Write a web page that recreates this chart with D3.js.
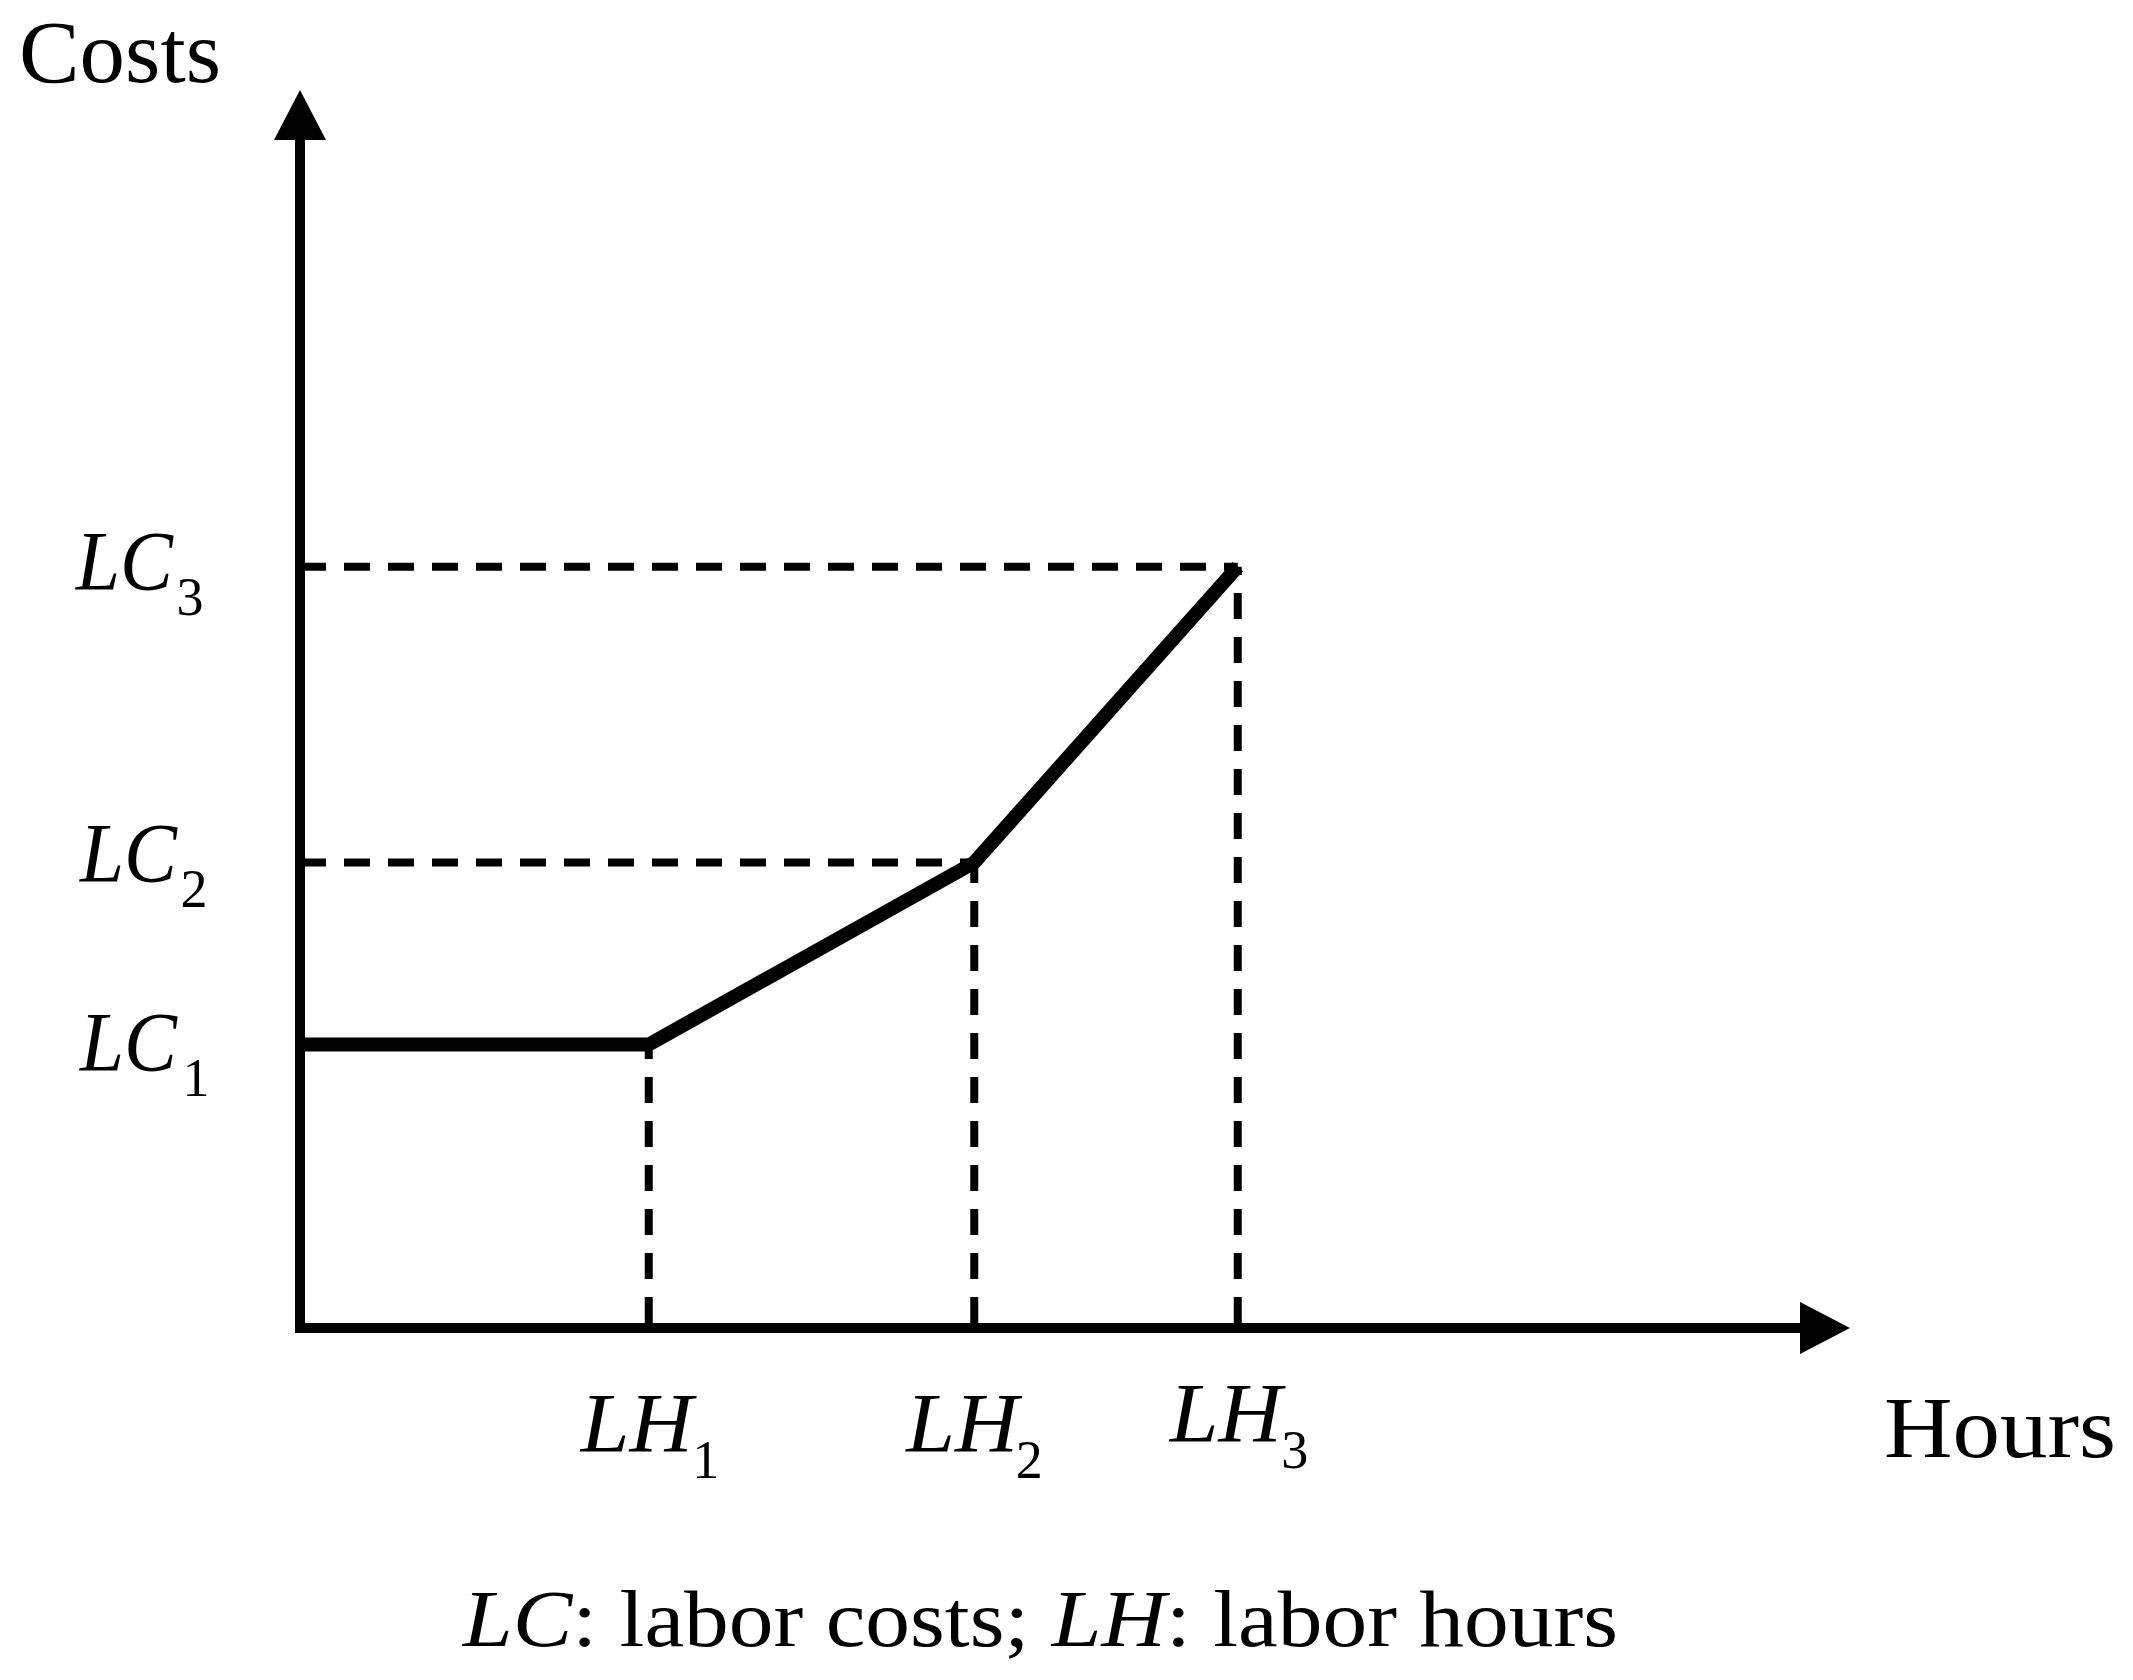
<!DOCTYPE html>
<html>
<head>
<meta charset="utf-8">
<script src="https://cdn.jsdelivr.net/npm/d3@7"></script>
<style>
  body { margin: 0; background: #fff; }
  svg { display: block; }
</style>
</head>
<body>
<svg id="chart"></svg>
<script>
// values, in arbitrary units (0-100 on each axis)
const hours = [0, 22.5, 43.5, 60.5];
const costs = [22.9, 22.9, 37.6, 61.5];

const hourBreaks = [22.5, 43.5, 60.5];
const costLevels = [22.9, 37.6, 61.5];

const hourLabels = ['LH', 'LH', 'LH'];
const hourSubs = ['1', '2', '3'];
const costLabels = ['LC', 'LC', 'LC'];
const costSubs = ['1', '2', '3'];

const axisTitles = { x: 'Hours', y: 'Costs' };
const note = [
  { text: 'LC', italic: true },
  { text: ': labor costs; ', italic: false },
  { text: 'LH', italic: true },
  { text: ': labor hours', italic: false },
];

const W = 2133;
const H = 1680;
const font = '"Liberation Serif", "Times New Roman", serif';

const x = d3.scaleLinear().domain([0, 100]).range([300, 1850]);
const y = d3.scaleLinear().domain([0, 100]).range([1328, 90]);

const svg = d3.select('#chart').attr('width', W).attr('height', H);
svg.append('rect').attr('width', W).attr('height', H).attr('fill', '#fff');

const dash = { width: 8, array: '26 18' };
const arrow = { len: 50, half: 26 };

const drawGuides = () => {
  const g = svg.append('g')
    .attr('stroke', '#000')
    .attr('stroke-width', dash.width)
    .attr('stroke-dasharray', dash.array)
    .attr('fill', 'none');

  // horizontal guides, skipping the first level (it is the solid segment)
  const levels = d3.zip(costLevels, hourBreaks).slice(1);
  g.selectAll('line.h')
    .data(levels)
    .enter()
    .append('line')
    .attr('class', 'h')
    .attr('x1', x(0))
    .attr('x2', d => x(d[1]))
    .attr('y1', d => y(d[0]))
    .attr('y2', d => y(d[0]));

  // vertical guides from the x axis up to each break
  g.selectAll('line.v')
    .data(d3.zip(hourBreaks, costLevels))
    .enter()
    .append('line')
    .attr('class', 'v')
    .attr('x1', d => x(d[0]))
    .attr('x2', d => x(d[0]))
    .attr('y1', y(0) - 5)
    .attr('y2', d => y(d[1]));
};

const drawCurve = () => {
  const line = d3.line()
    .x(d => x(d[0]))
    .y(d => y(d[1]));

  svg.append('path')
    .datum(d3.zip(hours, costs))
    .attr('d', line)
    .attr('fill', 'none')
    .attr('stroke', '#000')
    .attr('stroke-width', 14)
    .attr('stroke-linejoin', 'miter')
    .attr('stroke-linecap', 'butt');
};

const drawAxes = () => {
  const g = svg.append('g');
  const x0 = x(0), y0 = y(0);
  const xEnd = x.range()[1], yEnd = y.range()[1];

  g.append('line')
    .attr('x1', x0).attr('x2', x0)
    .attr('y1', y0 + 5).attr('y2', yEnd + arrow.len)
    .attr('stroke', '#000').attr('stroke-width', 10);

  g.append('line')
    .attr('x1', x0 - 5).attr('x2', xEnd - arrow.len)
    .attr('y1', y0).attr('y2', y0)
    .attr('stroke', '#000').attr('stroke-width', 10);

  g.append('path')
    .attr('d', `M${x0},${yEnd}L${x0 - arrow.half},${yEnd + arrow.len}L${x0 + arrow.half},${yEnd + arrow.len}Z`)
    .attr('fill', '#000');

  g.append('path')
    .attr('d', `M${xEnd},${y0}L${xEnd - arrow.len},${y0 - arrow.half}L${xEnd - arrow.len},${y0 + arrow.half}Z`)
    .attr('fill', '#000');
};

const drawLabels = () => {
  const g = svg.append('g').attr('font-family', font).attr('fill', '#000');

  // x tick labels: italic LH with roman subscript
  const hourNudge = [0, 0, -10];
  const hourSubX = [57, 55, 57];
  const hx = g.selectAll('g.hx')
    .data(hourBreaks)
    .enter()
    .append('g')
    .attr('class', 'hx')
    .attr('transform', (d, i) => `translate(${x(d)}, ${y(0) + 124 + hourNudge[i]})`);

  hx.append('text')
    .attr('x', -68)
    .attr('font-size', 84)
    .attr('font-style', 'italic')
    .attr('textLength', 112)
    .attr('lengthAdjust', 'spacingAndGlyphs')
    .text((d, i) => hourLabels[i]);

  hx.append('text')
    .attr('x', (d, i) => hourSubX[i])
    .attr('y', 26)
    .attr('font-size', 54)
    .attr('text-anchor', 'middle')
    .text((d, i) => hourSubs[i]);

  // y tick labels: italic LC with roman subscript
  const costNudge = [27, 19, 23];
  const costX = [80, 80, 76];
  const costSubX = [196, 194, 190];
  const cy = g.selectAll('g.cy')
    .data(costLevels)
    .enter()
    .append('g')
    .attr('class', 'cy')
    .attr('transform', (d, i) => `translate(0, ${y(d) + costNudge[i]})`);

  cy.append('text')
    .attr('x', (d, i) => costX[i])
    .attr('font-size', 84)
    .attr('font-style', 'italic')
    .attr('textLength', 97)
    .attr('lengthAdjust', 'spacingAndGlyphs')
    .text((d, i) => costLabels[i]);

  cy.append('text')
    .attr('x', (d, i) => costSubX[i])
    .attr('y', 25)
    .attr('font-size', 54)
    .attr('text-anchor', 'middle')
    .text((d, i) => costSubs[i]);

  // axis titles
  g.append('text')
    .attr('x', 19).attr('y', 82)
    .attr('font-size', 89)
    .attr('textLength', 202)
    .attr('lengthAdjust', 'spacingAndGlyphs')
    .text(axisTitles.y);

  g.append('text')
    .attr('x', 1884).attr('y', 1457)
    .attr('font-size', 87)
    .attr('textLength', 232)
    .attr('lengthAdjust', 'spacingAndGlyphs')
    .text(axisTitles.x);

  // footnote
  const t = g.append('text')
    .attr('x', 463).attr('y', 1646)
    .attr('font-size', 81)
    .attr('textLength', 1155)
    .attr('lengthAdjust', 'spacingAndGlyphs');

  t.selectAll('tspan')
    .data(note)
    .enter()
    .append('tspan')
    .attr('font-style', d => (d.italic ? 'italic' : 'normal'))
    .text(d => d.text);
};

drawGuides();
drawCurve();
drawAxes();
drawLabels();
</script>
</body>
</html>
